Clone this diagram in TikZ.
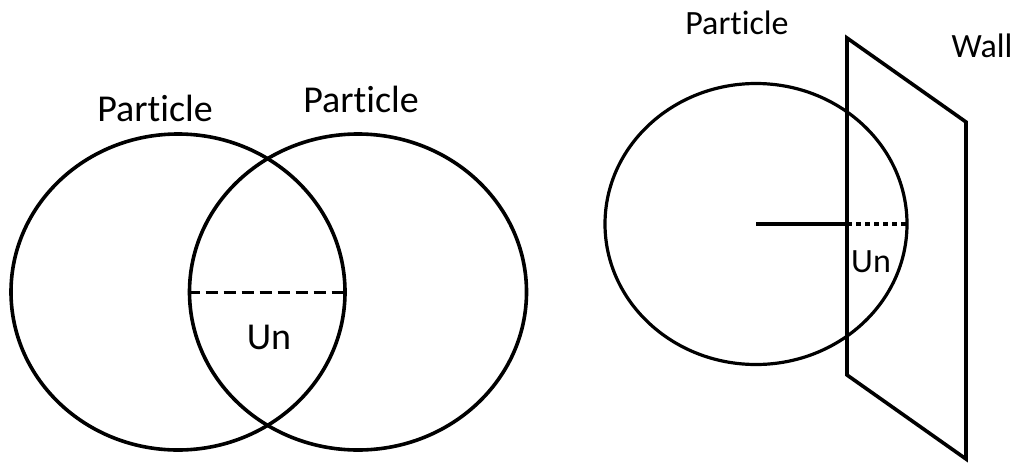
\documentclass[tikz,border=0pt]{standalone}
\usepackage{fontspec}
\setmainfont{Carlito}[Ligatures=NoCommon]
\usetikzlibrary{shapes.geometric}

\begin{document}
\begin{tikzpicture}[x=1pt, y=-1pt,
  every node/.style={font=\fontsize{38}{44}\selectfont},
  particula/.style={ellipse, draw, line width=3.6pt, inner sep=0pt},
  etiqueta/.style={inner sep=0pt}]
  \useasboundingbox (0,0) rectangle (1016,463);

  % dos particulas
  \node[particula, minimum width=334pt, minimum height=316pt] (P1) at (178,292) {};
  \node[particula, minimum width=337pt, minimum height=316pt] (P2) at (358,292) {};
  \draw[line width=3pt, dash pattern=on 12pt off 6pt] (P2.west) -- (P1.east);

  \node[etiqueta] (L1) at (155,108) {Particle};
  \node[etiqueta] (L2) at (361,99)  {Particle};
  \node[etiqueta] (U1) at (269,337) {Un};

  % particula y pared
  \node[particula, line width=3.2pt, minimum width=302pt, minimum height=281pt] (P3) at (756,224) {};
  \coordinate (W1) at (847,38);
  \coordinate (W2) at (966,122);
  \coordinate (W3) at (966,459);
  \coordinate (W4) at (847,375);
  \draw[line width=3.6pt] (W1) -- (W2) -- (W3) -- (W4) -- cycle;

  \coordinate (C) at (W1 |- P3.center);
  \draw[line width=4pt] (P3.center) -- (C);
  \draw[line width=3.6pt, dash pattern=on 5pt off 4pt] (C) -- (P3.east);

  \node[etiqueta, font=\fontsize{34}{40}\selectfont] (L3) at (737,23)  {Particle};
  \node[etiqueta, font=\fontsize{34}{40}\selectfont] (L4) at (982,46)  {Wall};
  \node[etiqueta, font=\fontsize{34}{40}\selectfont] (U2) at (871,262) {Un};
\end{tikzpicture}
\end{document}
